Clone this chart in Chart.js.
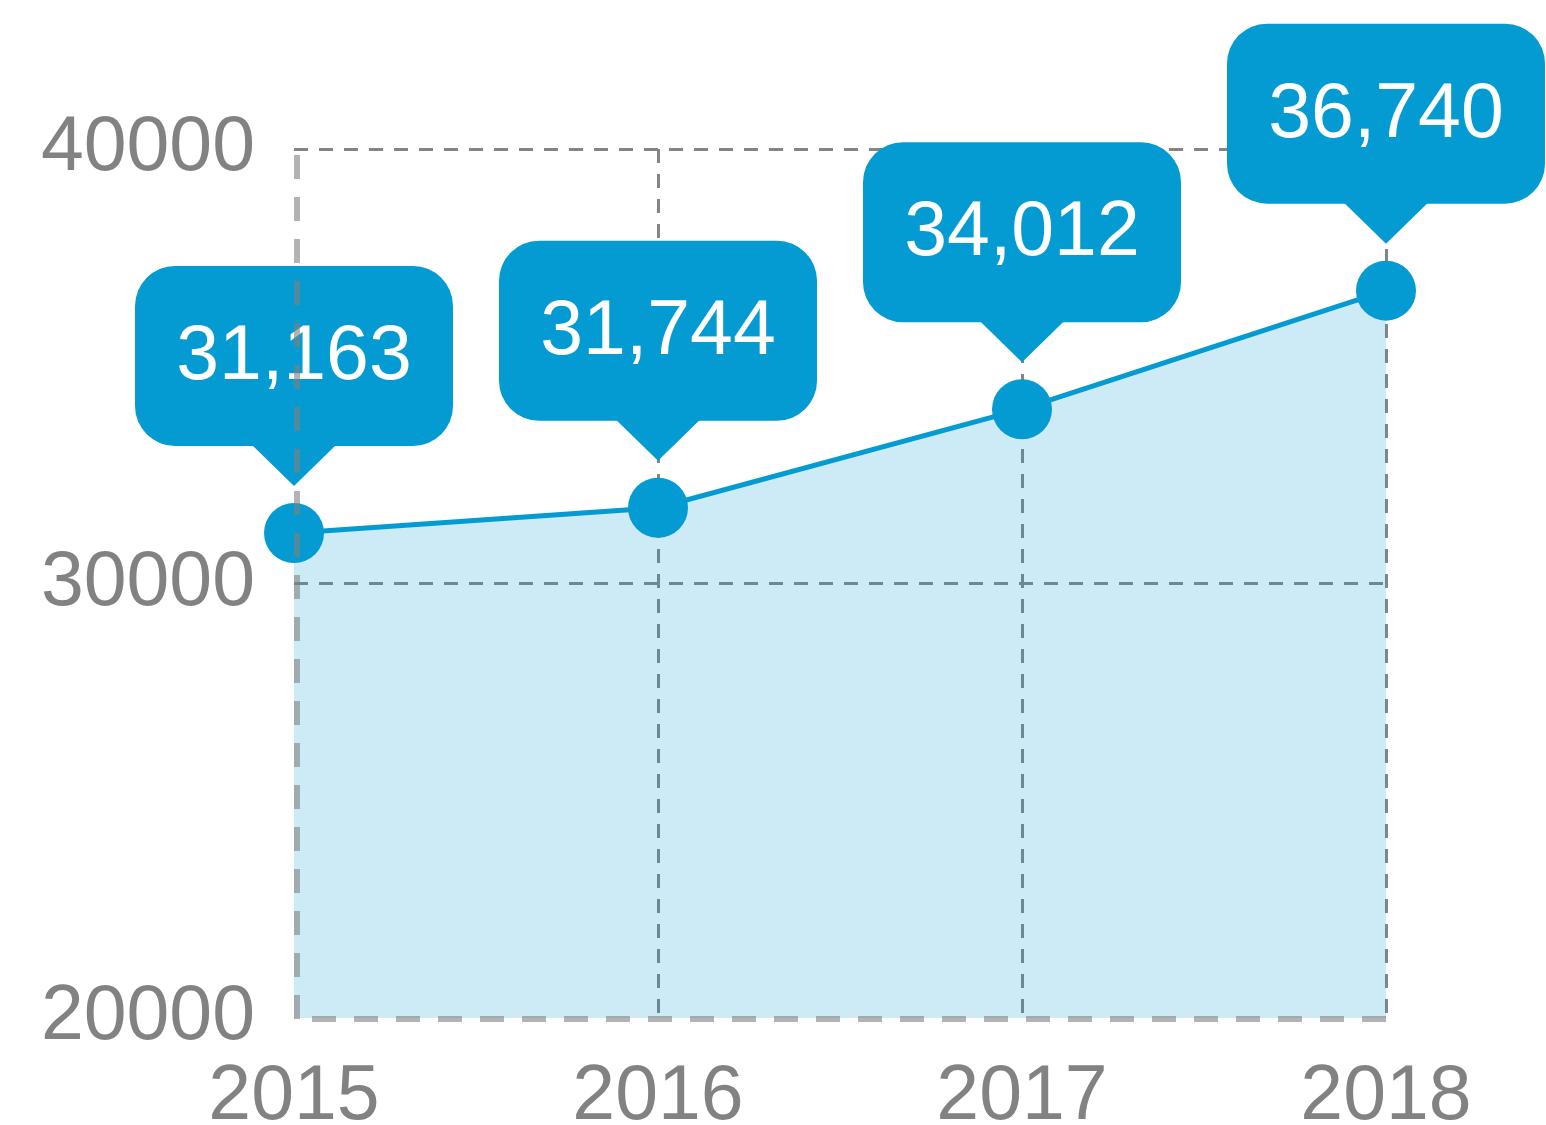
<!DOCTYPE html>
<html>
<head>
<meta charset="utf-8">
<script src="https://cdn.jsdelivr.net/npm/chart.js@4"></script>
<style>
  html, body { margin: 0; padding: 0; background: #ffffff; }
  #wrap { width: 1546px; height: 1125px; position: relative; }
</style>
</head>
<body>
<div id="wrap"><canvas id="chart"></canvas></div>
<script>
// данные графика
const years = ["2015", "2016", "2017", "2018"];
const values = [31163, 31744, 34012, 36740];
const yTicks = [20000, 30000, 40000];

const blue = "#039BD1";
const gray = "#828282";
const font = "'Liberation Sans', Arial, sans-serif";

// пунктирные оси слева и снизу, поверх всего
const borderPlugin = {
    id: "dashedBorder",
    afterDraw(chart) {
        const { ctx, chartArea } = chart;
        ctx.save();
        ctx.strokeStyle = "rgba(128,128,128,0.6)";
        ctx.lineWidth = 6;
        ctx.setLineDash([24, 18]);

        ctx.beginPath();
        ctx.moveTo(chartArea.left + 3, chartArea.bottom + 1);
        ctx.lineTo(chartArea.left + 3, chartArea.top);
        ctx.stroke();

        ctx.lineDashOffset = 24;
        ctx.beginPath();
        ctx.moveTo(chartArea.left, chartArea.bottom + 1);
        ctx.lineTo(chartArea.right, chartArea.bottom + 1);
        ctx.stroke();
        ctx.restore();
    }
};

// выноски со значениями над точками
const calloutPlugin = {
    id: "callouts",
    afterDatasetsDraw(chart) {
        const { ctx } = chart;
        const meta = chart.getDatasetMeta(0);
        const w = 318, h = 180, r = 40, tri = 40, half = 42, gap = 47;

        meta.data.forEach((pt, i) => {
            const x = pt.x;
            const tip = pt.y - gap;
            const bottom = tip - tri;
            const top = bottom - h;
            const left = x - w / 2;

            ctx.save();
            ctx.fillStyle = blue;
            ctx.beginPath();
            ctx.roundRect(left, top, w, h, r);
            ctx.fill();

            ctx.beginPath();
            ctx.moveTo(x - half, bottom - 1);
            ctx.lineTo(x + half, bottom - 1);
            ctx.lineTo(x, tip);
            ctx.closePath();
            ctx.fill();

            ctx.fillStyle = "#ffffff";
            ctx.font = `77px ${font}`;
            ctx.textAlign = "center";
            ctx.textBaseline = "middle";
            ctx.fillText(values[i].toLocaleString("en-US"), x, top + h / 2 + 2);
            ctx.restore();
        });
    }
};

const hideFirst = (ctx) => ctx.index === 0 ? "rgba(0,0,0,0)" : "#858585";

new Chart(document.getElementById("chart").getContext("2d"), {
    type: "line",
    data: {
        labels: years,
        datasets: [{
            data: values,
            borderColor: blue,
            borderWidth: 5,
            backgroundColor: "rgba(3,155,209,0.2)",
            fill: "start",
            tension: 0,
            pointRadius: 30,
            pointHoverRadius: 30,
            pointBackgroundColor: blue,
            pointBorderWidth: 0,
            clip: false
        }]
    },
    options: {
        responsive: true,
        maintainAspectRatio: false,
        animation: false,
        layout: {
            padding: { top: 149, right: 160, left: 0, bottom: 0 }
        },
        plugins: {
            legend: { display: false },
            tooltip: { enabled: false }
        },
        scales: {
            x: {
                grid: { color: hideFirst, lineWidth: 3, drawTicks: false },
                border: { display: false, dash: [14, 11] },
                ticks: {
                    color: gray,
                    font: { family: font, size: 77 },
                    padding: 34,
                    maxRotation: 0
                },
                afterFit(scale) { scale.height = 107; }
            },
            y: {
                min: yTicks[0],
                max: yTicks[yTicks.length - 1],
                afterBuildTicks(scale) {
                    scale.ticks = yTicks.map(v => ({ value: v }));
                },
                grid: { color: hideFirst, lineWidth: 3, drawTicks: false },
                border: { display: false, dash: [14, 11] },
                ticks: {
                    color: gray,
                    font: { family: font, size: 77 },
                    padding: 39,
                    callback: v => String(v)
                },
                afterFit(scale) { scale.width = 294; }
            }
        }
    },
    plugins: [calloutPlugin, borderPlugin]
});
</script>
</body>
</html>
